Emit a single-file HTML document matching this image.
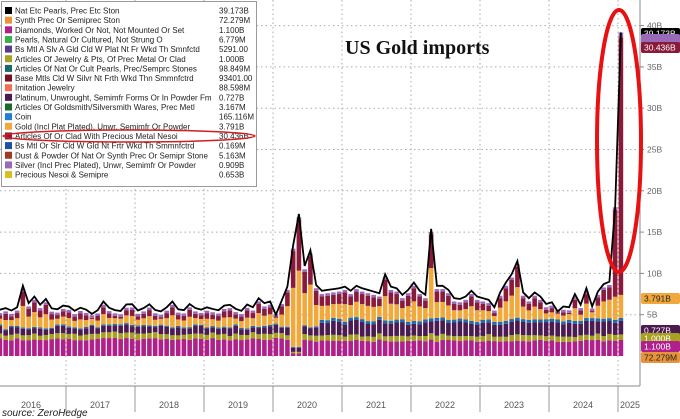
<!DOCTYPE html>
<html><head><meta charset="utf-8"><style>
body{margin:0;background:#fff;width:680px;height:419px;overflow:hidden;font-family:"Liberation Sans",sans-serif}
svg{position:absolute;left:0;top:0}
</style></head><body>
<svg id="s" width="680" height="419" xmlns="http://www.w3.org/2000/svg"></svg>
<script>
var s=document.getElementById('s'),h='';
function Y(v){return 356-v*8.26;}
for(var g=5;g<=40;g+=5){h+='<line x1="0" x2="640" y1="'+Y(g)+'" y2="'+Y(g)+'" stroke="#aaa" stroke-dasharray="1.5,3"/>';}
var seps=[66,135,204,273,342,411,480,549,618];
seps.forEach(function(x){h+='<line x1="'+x+'" x2="'+x+'" y1="0" y2="386" stroke="#aaa" stroke-dasharray="1.5,3"/><line x1="'+x+'" x2="'+x+'" y1="386" y2="412" stroke="#999"/>';});
h+='<line x1="0" x2="640" y1="386" y2="386" stroke="#888"/><line x1="640" x2="640" y1="0" y2="386" stroke="#888"/>';
var yrs=['2016','2017','2018','2019','2020','2021','2022','2023','2024','2025'],yx=[31,100,169,238,307,376,445,514,583,630];
yrs.forEach(function(t,i){h+='<text x="'+yx[i]+'" y="408" font-size="9" fill="#555" text-anchor="middle">'+t+'</text>';});
for(var g=5;g<=40;g+=5){h+='<line x1="640" x2="644" y1="'+Y(g)+'" y2="'+Y(g)+'" stroke="#888"/><text x="647" y="'+(Y(g)+3)+'" font-size="8.5" fill="#666">'+g+'B</text>';}
var seed=7;function r(){seed=(seed*9301+49297)%233280;return seed/233280;}
var N=109,tot=[];
for(var i=0;i<N;i++){tot.push(i<48?5.0+r()*0.9:(i<96?6.6+r()*1.2:6+r()));}
var S={0:5.2,1:5.4,3:5.5,4:8.1,5:6.0,6:6.8,7:5.8,8:6.5,18:6.2,16:4.7,30:6.2,28:5.0,40:5.8,44:5.5,48:4.6,50:5.6,52:5.0,
47:6.2,45:6.6,46:6.0,
49:6.3,50:8.0,51:13.0,52:16.8,53:10.5,54:12.4,55:8.2,56:7.5,57:7.6,58:7.7,59:7.8,60:8.0,61:7.5,62:8.1,63:7.8,64:7.6,65:7.4,66:7.2,67:9.5,68:8.0,69:7.8,70:7.0,71:7.6,72:8.5,73:7.5,74:7.0,
75:15.0,76:8.1,77:8.1,78:7.6,79:6.6,80:6.5,81:6.8,82:7.5,83:6.8,84:6.6,85:6.4,86:5.5,87:7.3,88:8.5,89:9.5,90:11.1,91:7.3,92:6.6,93:7.3,94:6.8,95:7.3};
for(var k in S)tot[k]=S[k];
var t24=[6.3,5.9,6.1,5.0,5.6,5.5,7.1,5.8,7.8,5.6,7.4,8.3,8.6,18];for(i=0;i<12;i++)tot[95+i]=t24[i+1];
tot[107]=18;tot[108]=39.17;
var cols=['#b0208a','#a7a020','#4a1a50','#1e6bb0','#f2a93b','#8a1a3a','#9a6aba'];
var pts=[];
for(i=0;i<N;i++){
 var x=-3+i*5.75+0.6,w=4.6,t=tot[i];
 var mag=(i>=53?1.7:1.9)+r()*0.3, ol=0.5+r()*0.3, pu=(i>=56?1.4:0.6)+r()*0.4, bl=(i>=56?0.35:0.15), or, dr, lp=0.3;
 if(i==51||i==52){mag=0.3;ol=0.2;pu=0.5;bl=0.1;or=t*0.55;}
 else if(i>=107){or=2.8;}
 else or=Math.max(0.7,(t-mag-ol-pu-bl-lp)*0.6);
 var parts=[mag,ol,pu,bl,or];var s0=mag+ol+pu+bl+or;dr=Math.max(0.15,t-s0-lp);
 if(i==108){dr=t-s0-0.6;lp=0.6;}
 parts.push(dr,lp);
 var acc=0;
 for(var k=0;k<parts.length;k++){var y1=Y(acc+parts[k]),y0=Y(acc);h+='<rect x="'+x+'" y="'+y1+'" width="'+w+'" height="'+(y0-y1)+'" fill="'+cols[k]+'"/>';acc+=parts[k];}
 pts.push((x+w/2)+','+Y(t+(i<107?0.4:0)));
}
h+='<polyline points="'+pts.join(' ')+'" fill="none" stroke="#000" stroke-width="1.8"/>';
function lab(y,t,bg,fg){h+='<rect x="641" y="'+(y-5)+'" width="39" height="11" rx="2" fill="'+bg+'"/><text x="644" y="'+(y+3.5)+'" font-size="8.5" fill="'+fg+'">'+t+'</text>';}
lab(33,'39.173B','#000','#fff');lab(39,'','#9a6aba','#fff');lab(47,'30.436B','#8a1a3a','#fff');lab(298,'3.791B','#f2a93b','#222');
lab(330,'0.727B','#4a1a50','#fff');lab(338,'1.000B','#a7a020','#fff');lab(346,'1.100B','#b0208a','#fff');lab(357,'72.279M','#e8923a','#222');
var L=[['#000','Nat Etc Pearls, Prec Etc Ston','39.173B'],['#e8923a','Synth Prec Or Semiprec Ston','72.279M'],['#b0208a','Diamonds, Worked Or Not, Not Mounted Or Set','1.100B'],['#3ab04a','Pearls, Natural Or Cultured, Not Strung O','6.779M'],['#5a3a8a','Bs Mtl A Slv A Gld Cld W Plat Nt Fr Wkd Th Smnfctd','5291.00'],['#a7a020','Articles Of Jewelry &amp; Pts, Of Prec Metal Or Clad','1.000B'],['#1a6a6a','Articles Of Nat Or Cult Pearls, Prec/Semprc Stones','98.849M'],['#7a1020','Base Mtls Cld W Silvr Nt Frth Wkd Thn Smmnfctrd','93401.00'],['#f07050','Imitation Jewelry','88.598M'],['#4a1a50','Platinum, Unwrought, Semimfr Forms Or In Powder Fm','0.727B'],['#1a6a2a','Articles Of Goldsmith/Silversmith Wares, Prec Metl','3.167M'],['#1e80d0','Coin','165.116M'],['#f2a93b','Gold (Incl Plat Plated), Unwr, Semimfr Or Powder','3.791B'],['#8a1a3a','Articles Of Or Clad With Precious Metal Nesoi','30.436B'],['#2050a0','Bs Mtl Or Slr Cld W Gld Nt Frtr Wkd Th Smmnfctrd','0.169M'],['#a03a20','Dust &amp; Powder Of Nat Or Synth Prec Or Semipr Stone','5.163M'],['#9a6aba','Silver (Incl Prec Plated), Unwr, Semimfr Or Powder','0.909B'],['#d8c020','Precious Nesoi &amp; Semipre','0.653B']];
h+='<rect x="1.5" y="1.5" width="255" height="185" fill="#fff" stroke="#999"/>';
L.forEach(function(l,i){var y=7+i*9.65;h+='<rect x="5" y="'+y+'" width="7" height="7" fill="'+l[0]+'"/><text x="15" y="'+(y+6.5)+'" font-size="8" fill="#222">'+l[1]+'</text><text x="219" y="'+(y+6.5)+'" font-size="8" fill="#222">'+l[2]+'</text>';});
h+='<ellipse cx="129" cy="136" rx="126" ry="6" fill="none" stroke="#d02020" stroke-width="1.5"/>';
h+='<text x="345" y="54" font-family="Liberation Serif,serif" font-weight="bold" font-size="20" fill="#111">US Gold imports</text>';
h+='<ellipse cx="619" cy="141" rx="22" ry="131" fill="none" stroke="#e81010" stroke-width="4"/>';
h+='<text x="2" y="416" font-size="10" font-style="italic" fill="#222">source: ZeroHedge</text>';
s.innerHTML=h;
</script>
</body></html>
